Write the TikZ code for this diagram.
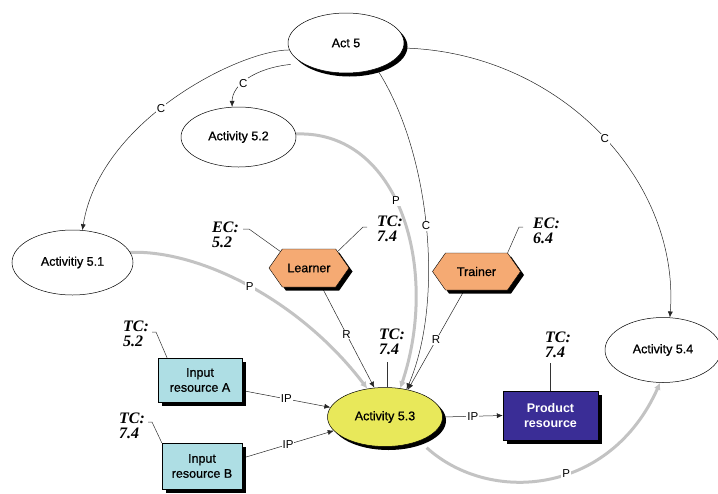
\documentclass[tikz,border=0pt]{standalone}
\usepackage{fontspec}
\setmainfont{Liberation Sans}
\newfontfamily\nodefont{Liberation Sans}[FakeBold=0.9]
\newfontfamily\tcfont{Liberation Serif}
\usetikzlibrary{shapes.geometric,shapes.symbols,shadows,arrows.meta}
\pgfdeclarelayer{bg}
\pgfsetlayers{bg,main}
\definecolor{yel}{RGB}{232,232,90}
\definecolor{ora}{RGB}{245,170,115}
\definecolor{cya}{RGB}{174,222,228}
\definecolor{pur}{RGB}{58,45,150}
\definecolor{gry}{RGB}{195,195,195}
\begin{document}
\begin{tikzpicture}[x=1pt,y=-1pt,
  every node/.style={font=\nodefont\fontsize{12.5}{15}\selectfont},
  shd/.style={general shadow={fill=black, shadow xshift=3.5pt, shadow yshift=-3.5pt}},
  act/.style={ellipse, draw, fill=white, inner sep=0pt, line width=0.5pt},
  hexa/.style={signal, signal to=east and west, signal pointer angle=110, draw, fill=ora, inner sep=0pt, shd},
  res/.style={rectangle, draw, fill=cya, align=center, inner sep=0pt, shd},
  tc/.style={anchor=west, align=left, inner sep=0pt, font=\tcfont\bfseries\itshape\fontsize{16}{15}\selectfont},
  cedge/.style={draw=black!85, line width=0.5pt, -{Latex[length=6pt,width=5pt]}},
  pedge/.style={draw=gry, line width=3pt, -{Latex[length=7pt,width=7pt]}},
  lbl/.style={fill=white, inner sep=1pt, font=\rmfamily\fontsize{11.5}{12}\selectfont},
  lead/.style={draw=black!80, line width=0.5pt}
]
\useasboundingbox (0,0) rectangle (718,493);
% nodes
\node[act, shd, minimum width=116pt, minimum height=60pt] (act5) at (346,43) {Act 5};
\node[act, minimum width=115pt, minimum height=60pt] (a52) at (238.5,137) {Activity 5.2};
\node[act, minimum width=121pt, minimum height=65pt] (a51) at (72.5,262.5) {Activitiy 5.1};
\node[act, shd, fill=yel, minimum width=115pt, minimum height=59pt] (a53) at (385,417) {Activity 5.3};
\node[act, minimum width=116pt, minimum height=65pt] (a54) at (663,350) {Activity 5.4};
\node[hexa, minimum width=80pt, minimum height=38pt] (learner) at (309,268) {Learner};
\node[hexa, minimum width=88pt, minimum height=37pt] (trainer) at (476.5,271.5) {Trainer};
\node[res, minimum width=84pt, minimum height=44pt] (inA) at (200,380) {Input\\resource A};
\node[res, minimum width=80pt, minimum height=46pt] (inB) at (202,466) {Input\\resource B};
\node[res, fill=pur, text=white, font=\rmfamily\bfseries\fontsize{12.5}{15}\selectfont, minimum width=95pt, minimum height=49pt] (prod) at (550.5,415.5) {Product\\resource};
% annotation labels
\node[tc] (ec52) at (212,234.5) {EC:\\5.2};
\node[tc] (tcL) at (377,228.5) {TC:\\7.4};
\node[tc] (tcA) at (123,334) {TC:\\5.2};
\node[tc] (tcB) at (119,425.5) {TC:\\7.4};
\node[tc] (tc53) at (379,341.5) {TC:\\7.4};
\node[tc] (ec64) at (533,230.5) {EC:\\6.4};
\node[tc] (tcP) at (545,345) {TC:\\7.4};
\coordinate (ec52t) at (243,229);
\coordinate (tcLt) at (367,227);
\coordinate (tcAt) at (152,332);
\coordinate (tcBt) at (148,422);
\coordinate (ec64t) at (523,227);
\begin{pgfonlayer}{bg}
% leader lines
\draw[lead] (ec52t) -- ++(6,0) -- (learner.150);
\draw[lead] (tcLt) -- ++(-4,0) -- (learner.30);
\draw[lead] (tcAt) -- ++(4,0) -- (inA.146);
\draw[lead] (tcBt) -- ++(4,0) -- (inB.north west);
\draw[lead] (ec64t) -- ++(-4,0) -- (trainer.31);
\draw[lead, shorten >=7pt] (a53.85) -- (a53.85 |- tc53.south);
\draw[lead, shorten >=5pt] (prod.north) -- (prod.north |- tcP.south);
% C edges
\draw[cedge] (act5.187) .. controls (240,50) and (100,120) .. (a51.73) node[lbl, pos=.55] {C};
\draw[cedge, shorten <=12pt] (act5.205) .. controls (255,68) and (232,85) .. (a52.102) node[lbl, pos=.6] {C};
\draw[cedge] (act5.320) .. controls (430,150) and (445,300) .. (a53.52) node[lbl, pos=.5] {C};
\draw[cedge] (act5.355) .. controls (560,52) and (680,180) .. (a54.78) node[lbl, pos=.52] {C};
% P edges
\draw[pedge] (a52.3) .. controls (400,130) and (440,270) .. (a53.62) node[lbl, pos=.45] {P};
\draw[pedge] (a51.10) .. controls (200,250) and (300,300) .. (a53.122) node[lbl, pos=.5] {P};
\draw[pedge, shorten <=10pt] (a53.-35) .. controls (490,505) and (610,495) .. (a54.265) node[lbl, pos=.57] {P};
% R edges
\draw[cedge] (learner.-56) -- (a53.110) node[lbl, pos=.47] {R};
\draw[cedge] (trainer.237) -- (a53.50) node[lbl, pos=.5] {R};
% IP edges
\draw[cedge] (inA.-14) -- (a53.170) node[lbl, pos=.5] {IP};
\draw[cedge] (inB.11) -- (a53.195) node[lbl, pos=.5] {IP};
\draw[cedge] (a53.east) -- (prod.west) node[lbl, pos=.5] {IP};
\end{pgfonlayer}
\end{tikzpicture}
\end{document}
